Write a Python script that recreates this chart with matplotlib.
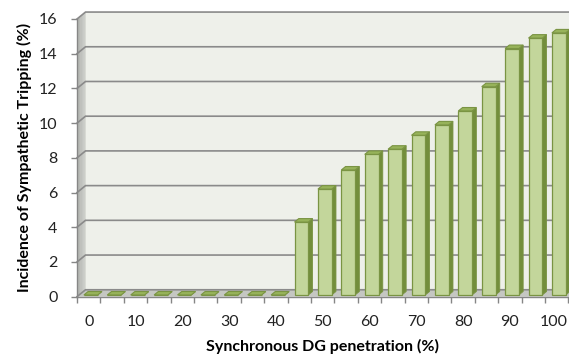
import matplotlib
matplotlib.use("Agg")
import matplotlib.pyplot as plt
import matplotlib.transforms as mtransforms
from matplotlib.patches import Polygon
import numpy as np

plt.rcParams['font.family'] = ['Lato', 'DejaVu Sans']

# Synchronous DG penetration levels (%) and incidence of sympathetic tripping (%)
penetration = [0, 5, 10, 15, 20, 25, 30, 35, 40, 45, 50,
               55, 60, 65, 70, 75, 80, 85, 90, 95, 100]
incidence = [0, 0, 0, 0, 0, 0, 0, 0, 0, 4.2, 6.1,
             7.2, 8.1, 8.4, 9.2, 9.8, 10.6, 12.0, 14.2, 14.8, 15.1]
y_ticks = [0, 2, 4, 6, 8, 10, 12, 14, 16]
x_label_every = 2

# oblique projection used for the 3-D look (in data units per unit of depth)
DX, DY = 0.363, 0.40
Z0, Z1 = 0.25, 0.75          # bar depth span (0 = front, 1 = back wall)
BAR_W = 0.59
YMAX = 16

def proj(x, y, z):
    return (x + z * DX, y + z * DY)

W, H = 569, 354
fig = plt.figure(figsize=(W / 100, H / 100), dpi=100)
left_px, right_px = 77, 568.4
bottom_px, top_px = 296.7, 19
ax = fig.add_axes([left_px / W, 1 - bottom_px / H,
                   (right_px - left_px) / W, (bottom_px - top_px) / H])
n = len(penetration)
ax.set_xlim(-0.5, n - 0.5)
ax.set_ylim(0, YMAX)
for s in ax.spines.values():
    s.set_visible(False)
ax.patch.set_visible(False)

wall_col = '#eef0ea'
grid_col = '#8a8a8a'

# back wall
xr = n - 0.5 + 2
back = Polygon([proj(-0.5, 0, 1), proj(xr, 0, 1), proj(xr, YMAX, 1), proj(-0.5, YMAX, 1)],
               closed=True, facecolor=wall_col, edgecolor='none', clip_on=False, zorder=0)
ax.add_patch(back)

# left side wall with a soft gradient
nsteps = 12
for k in range(nsteps):
    za, zb = k / nsteps, (k + 1) / nsteps
    c = 0.60 + 0.16 * (k / (nsteps - 1))
    poly = Polygon([proj(-0.5, 0, za), proj(-0.5, 0, zb), proj(-0.5, YMAX, zb), proj(-0.5, YMAX, za)],
                   closed=True, facecolor=(c, c + 0.01, c - 0.01), edgecolor='none',
                   clip_on=False, zorder=1, antialiased=True, linewidth=0.3)
    ax.add_patch(poly)

# floor
floor = Polygon([proj(-0.5, 0, 0), proj(xr, 0, 0), proj(xr, 0, 1), proj(-0.5, 0, 1)],
                closed=True, facecolor='#c5c7c2', edgecolor='none', clip_on=False, zorder=1)
ax.add_patch(floor)

# gridlines running across the side wall and the back wall
for v in y_ticks:
    p0 = proj(-0.5, v, 0)
    p1 = proj(-0.5, v, 1)
    p2 = proj(xr, v, 1)
    ax.plot([p0[0], p1[0], p2[0]], [p0[1], p1[1], p2[1]], color=grid_col,
            lw=1.2, clip_on=False, zorder=2, solid_joinstyle='miter')

# bars: front face via ax.bar, side and top faces as projected polygons
front_col = '#c3d69b'
edge_col = '#7a9443'
side_col = '#738e3c'
top_col = '#97b35a'
xs = np.arange(n)
fx = xs + Z0 * DX
fy = Z0 * DY
ax.bar(fx, incidence, width=BAR_W, bottom=fy, color=front_col, edgecolor=edge_col,
       linewidth=0.9, zorder=5, clip_on=False)
for i, v in enumerate(incidence):
    xl, xrr = i - BAR_W / 2, i + BAR_W / 2
    side = Polygon([proj(xrr, 0, Z0), proj(xrr, 0, Z1), proj(xrr, v, Z1), proj(xrr, v, Z0)],
                   closed=True, facecolor=side_col, edgecolor=edge_col, linewidth=0.6,
                   clip_on=False, zorder=4)
    top = Polygon([proj(xl, v, Z0), proj(xrr, v, Z0), proj(xrr, v, Z1), proj(xl, v, Z1)],
                  closed=True, facecolor=top_col, edgecolor=edge_col, linewidth=0.8,
                  clip_on=False, zorder=6)
    ax.add_patch(side)
    ax.add_patch(top)

# front axis lines
axis_col = '#868686'
ax.plot([-0.5, -0.5], [0, YMAX], color=axis_col, lw=1.0, clip_on=False, zorder=7)
ax.plot([-0.5, n - 0.5], [0, 0], color=axis_col, lw=1.0, clip_on=False, zorder=7)

ax.set_yticks(y_ticks)
ax.set_yticklabels([str(t) for t in y_ticks])
ax.set_xticks(xs[::x_label_every])
ax.set_xticklabels([str(p) for p in penetration[::x_label_every]])
ax.set_xticks(np.arange(-0.5, n), minor=True)
ax.tick_params(axis='x', which='major', length=0, pad=13, labelsize=11.5, colors='#222222')
ax.tick_params(axis='x', which='minor', length=4, width=1.0, color=axis_col)
ax.tick_params(axis='y', which='major', length=4, width=1.0, color=axis_col,
               labelsize=11.5, pad=10, labelcolor='#222222')

# keep the last category label inside the canvas
last = ax.get_xticklabels()[-1]
last.set_transform(last.get_transform() +
                   mtransforms.ScaledTranslation(-3 / 100, 0, fig.dpi_scale_trans))

ax.set_xlabel('Synchronous DG penetration (%)', fontsize=11.5, fontweight='bold',
              labelpad=7)
ax.set_ylabel('Incidence of Sympathetic Tripping (%)', fontsize=11.5, fontweight='bold',
              labelpad=5)

fig.savefig('out.png', dpi=100, facecolor='white')
